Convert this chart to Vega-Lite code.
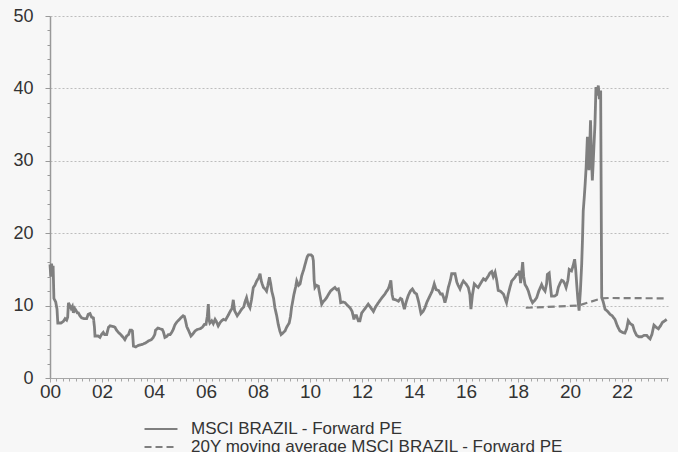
{
  "$schema": "https://vega.github.io/schema/vega-lite/v6.json",
  "width": 618,
  "height": 362,
  "autosize": {"type": "none"},
  "padding": {"left": 50, "top": 16, "right": 10, "bottom": 74},
  "background": "#f7f7f7",
  "config": {
    "font": "Liberation Sans",
    "view": {"stroke": null},
    "axis": {"titleFontSize": 0}
  },
  "datasets": {
    "main": [
      {"t":2000.00,"v":15.7},{"t":2000.03,"v":14.0},{"t":2000.06,"v":15.8},{"t":2000.09,"v":14.5},{"t":2000.12,"v":15.5},{"t":2000.15,"v":11.0},{"t":2000.22,"v":10.5},{"t":2000.27,"v":9.5},{"t":2000.30,"v":7.6},{"t":2000.42,"v":7.6},{"t":2000.51,"v":7.8},{"t":2000.58,"v":8.2},{"t":2000.64,"v":8.0},{"t":2000.68,"v":8.4},{"t":2000.71,"v":10.4},{"t":2000.76,"v":10.0},{"t":2000.81,"v":9.6},{"t":2000.86,"v":9.9},{"t":2000.90,"v":9.0},{"t":2000.95,"v":9.6},{"t":2000.99,"v":9.4},
      {"t":2001.05,"v":9.0},{"t":2001.09,"v":9.0},{"t":2001.15,"v":8.6},{"t":2001.22,"v":8.3},{"t":2001.30,"v":8.2},{"t":2001.41,"v":8.2},{"t":2001.47,"v":8.8},{"t":2001.54,"v":8.9},{"t":2001.60,"v":8.4},{"t":2001.67,"v":8.3},{"t":2001.71,"v":7.0},{"t":2001.73,"v":5.8},{"t":2001.85,"v":5.8},{"t":2001.92,"v":5.6},{"t":2001.98,"v":6.0},
      {"t":2002.05,"v":6.3},{"t":2002.10,"v":6.0},{"t":2002.18,"v":6.0},{"t":2002.25,"v":7.0},{"t":2002.31,"v":7.2},{"t":2002.45,"v":7.1},{"t":2002.50,"v":7.0},{"t":2002.56,"v":6.6},{"t":2002.63,"v":6.3},{"t":2002.72,"v":6.0},{"t":2002.82,"v":5.6},{"t":2002.88,"v":5.3},{"t":2002.95,"v":5.8},
      {"t":2003.02,"v":6.0},{"t":2003.08,"v":6.6},{"t":2003.14,"v":6.6},{"t":2003.17,"v":6.5},{"t":2003.21,"v":4.4},{"t":2003.30,"v":4.3},{"t":2003.40,"v":4.5},{"t":2003.50,"v":4.6},{"t":2003.59,"v":4.7},{"t":2003.70,"v":4.9},{"t":2003.78,"v":5.1},{"t":2003.90,"v":5.3},{"t":2003.97,"v":5.6},
      {"t":2004.03,"v":6.0},{"t":2004.06,"v":6.6},{"t":2004.15,"v":6.9},{"t":2004.23,"v":6.8},{"t":2004.32,"v":6.7},{"t":2004.36,"v":6.4},{"t":2004.42,"v":5.6},{"t":2004.48,"v":5.7},{"t":2004.55,"v":6.0},{"t":2004.62,"v":6.0},{"t":2004.68,"v":6.3},{"t":2004.74,"v":6.7},{"t":2004.80,"v":7.3},{"t":2004.87,"v":7.7},{"t":2004.95,"v":8.0},
      {"t":2005.06,"v":8.4},{"t":2005.12,"v":8.6},{"t":2005.17,"v":8.5},{"t":2005.22,"v":7.8},{"t":2005.26,"v":7.1},{"t":2005.35,"v":6.4},{"t":2005.42,"v":5.8},{"t":2005.50,"v":6.1},{"t":2005.58,"v":6.5},{"t":2005.66,"v":6.7},{"t":2005.77,"v":6.8},{"t":2005.86,"v":7.0},{"t":2005.94,"v":7.4},
      {"t":2006.00,"v":7.4},{"t":2006.05,"v":8.5},{"t":2006.09,"v":10.2},{"t":2006.12,"v":8.0},{"t":2006.15,"v":7.6},{"t":2006.22,"v":7.9},{"t":2006.28,"v":7.5},{"t":2006.35,"v":8.1},{"t":2006.40,"v":7.8},{"t":2006.47,"v":7.2},{"t":2006.55,"v":7.7},{"t":2006.60,"v":7.9},{"t":2006.67,"v":8.1},{"t":2006.75,"v":8.0},{"t":2006.86,"v":8.7},{"t":2006.93,"v":9.2},
      {"t":2007.00,"v":9.6},{"t":2007.05,"v":10.8},{"t":2007.10,"v":9.3},{"t":2007.20,"v":8.6},{"t":2007.28,"v":9.0},{"t":2007.37,"v":9.5},{"t":2007.45,"v":9.8},{"t":2007.50,"v":10.5},{"t":2007.56,"v":11.1},{"t":2007.62,"v":10.2},{"t":2007.69,"v":9.7},{"t":2007.75,"v":10.8},{"t":2007.82,"v":12.5},{"t":2007.88,"v":12.8},{"t":2007.95,"v":13.4},
      {"t":2008.02,"v":13.8},{"t":2008.08,"v":14.4},{"t":2008.12,"v":13.5},{"t":2008.16,"v":13.0},{"t":2008.21,"v":12.5},{"t":2008.27,"v":12.3},{"t":2008.33,"v":12.0},{"t":2008.38,"v":12.8},{"t":2008.44,"v":13.9},{"t":2008.49,"v":13.0},{"t":2008.53,"v":12.0},{"t":2008.60,"v":11.0},{"t":2008.65,"v":9.7},{"t":2008.72,"v":8.6},{"t":2008.78,"v":7.4},{"t":2008.84,"v":6.5},{"t":2008.89,"v":6.0},{"t":2008.95,"v":6.2},
      {"t":2009.04,"v":6.5},{"t":2009.10,"v":7.0},{"t":2009.20,"v":7.6},{"t":2009.25,"v":8.5},{"t":2009.29,"v":9.7},{"t":2009.38,"v":11.5},{"t":2009.45,"v":12.6},{"t":2009.49,"v":13.4},{"t":2009.56,"v":12.8},{"t":2009.62,"v":13.0},{"t":2009.68,"v":14.1},{"t":2009.76,"v":15.0},{"t":2009.85,"v":16.2},{"t":2009.90,"v":16.8},{"t":2009.94,"v":17.0},
      {"t":2010.04,"v":17.0},{"t":2010.10,"v":16.8},{"t":2010.13,"v":16.2},{"t":2010.16,"v":13.5},{"t":2010.19,"v":12.5},{"t":2010.25,"v":12.8},{"t":2010.32,"v":12.7},{"t":2010.38,"v":11.5},{"t":2010.45,"v":10.2},{"t":2010.52,"v":10.6},{"t":2010.58,"v":10.8},{"t":2010.64,"v":11.1},{"t":2010.72,"v":11.6},{"t":2010.79,"v":12.0},{"t":2010.88,"v":12.3},{"t":2010.96,"v":12.5},
      {"t":2011.03,"v":12.2},{"t":2011.09,"v":12.3},{"t":2011.14,"v":11.5},{"t":2011.18,"v":10.4},{"t":2011.27,"v":10.5},{"t":2011.35,"v":10.4},{"t":2011.45,"v":10.0},{"t":2011.54,"v":9.7},{"t":2011.62,"v":9.2},{"t":2011.69,"v":8.1},{"t":2011.73,"v":8.6},{"t":2011.79,"v":8.6},{"t":2011.86,"v":7.9},{"t":2011.92,"v":7.9},{"t":2011.99,"v":9.0},
      {"t":2012.10,"v":9.5},{"t":2012.24,"v":10.2},{"t":2012.32,"v":9.8},{"t":2012.44,"v":9.2},{"t":2012.52,"v":9.8},{"t":2012.63,"v":10.4},{"t":2012.75,"v":11.0},{"t":2012.88,"v":11.6},{"t":2012.95,"v":12.0},
      {"t":2013.01,"v":12.3},{"t":2013.06,"v":12.8},{"t":2013.11,"v":13.5},{"t":2013.16,"v":11.5},{"t":2013.20,"v":10.9},{"t":2013.30,"v":10.8},{"t":2013.40,"v":10.6},{"t":2013.48,"v":11.0},{"t":2013.53,"v":10.9},{"t":2013.63,"v":9.5},{"t":2013.70,"v":10.5},{"t":2013.78,"v":11.4},{"t":2013.86,"v":12.0},{"t":2013.94,"v":12.3},
      {"t":2014.02,"v":11.8},{"t":2014.10,"v":11.6},{"t":2014.18,"v":10.5},{"t":2014.27,"v":8.9},{"t":2014.35,"v":9.2},{"t":2014.42,"v":9.7},{"t":2014.50,"v":10.5},{"t":2014.62,"v":11.4},{"t":2014.70,"v":12.0},{"t":2014.78,"v":13.0},{"t":2014.85,"v":12.2},{"t":2014.94,"v":12.1},
      {"t":2015.02,"v":11.6},{"t":2015.09,"v":11.6},{"t":2015.15,"v":11.0},{"t":2015.19,"v":10.4},{"t":2015.25,"v":11.2},{"t":2015.32,"v":12.5},{"t":2015.40,"v":13.5},{"t":2015.45,"v":14.4},{"t":2015.58,"v":14.4},{"t":2015.65,"v":13.2},{"t":2015.70,"v":12.8},{"t":2015.77,"v":12.3},{"t":2015.84,"v":13.0},{"t":2015.90,"v":13.4},
      {"t":2016.00,"v":13.0},{"t":2016.09,"v":12.5},{"t":2016.15,"v":11.5},{"t":2016.19,"v":9.5},{"t":2016.25,"v":11.5},{"t":2016.32,"v":13.0},{"t":2016.40,"v":12.7},{"t":2016.47,"v":12.5},{"t":2016.55,"v":13.0},{"t":2016.67,"v":13.7},{"t":2016.75,"v":13.5},{"t":2016.86,"v":14.1},{"t":2016.92,"v":14.5},{"t":2016.99,"v":14.7},
      {"t":2017.05,"v":14.0},{"t":2017.12,"v":14.6},{"t":2017.18,"v":13.5},{"t":2017.24,"v":12.1},{"t":2017.32,"v":12.0},{"t":2017.44,"v":11.6},{"t":2017.50,"v":11.0},{"t":2017.56,"v":10.4},{"t":2017.62,"v":11.5},{"t":2017.69,"v":12.5},{"t":2017.76,"v":13.4},{"t":2017.88,"v":13.9},{"t":2017.95,"v":14.3},
      {"t":2018.01,"v":14.3},{"t":2018.06,"v":14.8},{"t":2018.10,"v":13.1},{"t":2018.14,"v":14.5},{"t":2018.18,"v":16.0},{"t":2018.22,"v":14.0},{"t":2018.27,"v":12.9},{"t":2018.34,"v":12.5},{"t":2018.40,"v":12.0},{"t":2018.48,"v":11.0},{"t":2018.56,"v":10.4},{"t":2018.64,"v":10.7},{"t":2018.72,"v":11.1},{"t":2018.80,"v":12.0},{"t":2018.91,"v":12.9},{"t":2018.98,"v":12.3},
      {"t":2019.04,"v":12.0},{"t":2019.10,"v":13.0},{"t":2019.13,"v":14.3},{"t":2019.20,"v":14.5},{"t":2019.24,"v":13.0},{"t":2019.29,"v":11.3},{"t":2019.40,"v":11.3},{"t":2019.49,"v":11.5},{"t":2019.55,"v":12.5},{"t":2019.62,"v":13.1},{"t":2019.68,"v":13.5},{"t":2019.74,"v":13.4},{"t":2019.80,"v":13.0},{"t":2019.85,"v":12.5},{"t":2019.92,"v":13.5},{"t":2019.97,"v":15.0},
      {"t":2020.06,"v":14.8},{"t":2020.12,"v":15.5},{"t":2020.18,"v":16.4},{"t":2020.22,"v":15.0},{"t":2020.26,"v":12.9},{"t":2020.30,"v":11.0},{"t":2020.35,"v":9.3},{"t":2020.40,"v":12.0},{"t":2020.45,"v":15.7},{"t":2020.48,"v":19.0},{"t":2020.51,"v":23.1},{"t":2020.55,"v":25.0},{"t":2020.58,"v":26.6},{"t":2020.62,"v":29.0},{"t":2020.67,"v":33.3},{"t":2020.70,"v":31.0},{"t":2020.73,"v":28.7},{"t":2020.76,"v":32.0},{"t":2020.79,"v":35.6},{"t":2020.83,"v":30.0},{"t":2020.86,"v":27.3},{"t":2020.89,"v":29.5},{"t":2020.92,"v":31.9},{"t":2020.96,"v":35.0},
      {"t":2021.00,"v":40.2},{"t":2021.04,"v":39.0},{"t":2021.09,"v":40.4},{"t":2021.13,"v":38.5},{"t":2021.18,"v":39.7},{"t":2021.20,"v":25.0},{"t":2021.22,"v":11.1},{"t":2021.28,"v":10.5},{"t":2021.35,"v":9.5},{"t":2021.45,"v":9.2},{"t":2021.54,"v":8.8},{"t":2021.62,"v":8.6},{"t":2021.73,"v":8.1},{"t":2021.82,"v":7.2},{"t":2021.92,"v":6.5},
      {"t":2022.02,"v":6.3},{"t":2022.11,"v":6.2},{"t":2022.18,"v":6.8},{"t":2022.24,"v":7.9},{"t":2022.32,"v":7.5},{"t":2022.41,"v":7.3},{"t":2022.48,"v":6.5},{"t":2022.56,"v":5.9},{"t":2022.65,"v":5.7},{"t":2022.76,"v":5.7},{"t":2022.85,"v":5.9},{"t":2022.95,"v":5.9},
      {"t":2023.02,"v":5.6},{"t":2023.08,"v":5.4},{"t":2023.15,"v":6.0},{"t":2023.23,"v":7.3},{"t":2023.32,"v":7.0},{"t":2023.40,"v":6.8},{"t":2023.48,"v":7.2},{"t":2023.56,"v":7.7},{"t":2023.65,"v":7.9},{"t":2023.72,"v":8.1}
    ],
    "ma": [
      {"t":2018.30,"v":9.7},{"t":2019.00,"v":9.8},{"t":2019.60,"v":9.9},{"t":2020.32,"v":10.0},{"t":2021.22,"v":11.0},{"t":2021.50,"v":11.05},{"t":2023.73,"v":11.0}
    ]
  },
  "layer": [
    {
      "data": {"name": "main"},
      "mark": {"type": "line", "strokeWidth": 2.8, "interpolate": "linear"},
      "encoding": {
        "x": {
          "field": "t", "type": "quantitative",
          "scale": {"domain": [2000, 2023.77], "nice": false, "zero": false},
          "axis": {
            "orient": "bottom", "title": null,
            "values": [2000,2002,2004,2006,2008,2010,2012,2014,2016,2018,2020,2022],
            "labelExpr": "slice(toString(datum.value), 2)",
            "grid": false, "tickSize": 4, "tickColor": "#a6a6a6", "domainColor": "#a6a6a6", "domainWidth": 1.2,
            "labelFontSize": 19, "labelColor": "#333333", "labelPadding": 0, "labelFlush": false, "labelOverlap": false
          }
        },
        "y": {
          "field": "v", "type": "quantitative",
          "scale": {"domain": [0, 50], "nice": false},
          "axis": {
            "orient": "left", "title": null,
            "values": [0,10,20,30,40,50],
            "grid": true, "gridDash": [2,2], "gridColor": "#bdbdbd", "gridWidth": 1,
            "tickSize": 5, "tickColor": "#999999", "domainColor": "#999999", "domainWidth": 1.5,
            "labelFontSize": 18, "labelColor": "#333333", "labelPadding": 12
          }
        },
        "color": {
          "datum": "MSCI BRAZIL - Forward PE",
          "scale": {"domain": ["MSCI BRAZIL - Forward PE", "20Y moving average MSCI BRAZIL - Forward PE"], "range": ["#7f7f7f", "#7f7f7f"]},
          "legend": {
            "title": null, "orient": "none", "legendX": 101, "legendY": 403,
            "symbolType": "M-1.94,0H1.94", "symbolSize": 289, "symbolStrokeWidth": 2.2,
            "labelFontSize": 17, "labelColor": "#333333", "labelOffset": 20, "rowPadding": -1, "labelLimit": 600
          }
        },
        "strokeDash": {
          "datum": "MSCI BRAZIL - Forward PE",
          "scale": {"domain": ["MSCI BRAZIL - Forward PE", "20Y moving average MSCI BRAZIL - Forward PE"], "range": [[1,0],[7,4]]},
          "legend": {
            "title": null, "orient": "none", "legendX": 101, "legendY": 403,
            "symbolType": "M-1.94,0H1.94", "symbolSize": 289, "symbolStrokeWidth": 2.2,
            "labelFontSize": 17, "labelColor": "#333333", "labelOffset": 20, "rowPadding": -1, "labelLimit": 600
          }
        }
      }
    },
    {
      "data": {"name": "ma"},
      "mark": {"type": "line", "strokeWidth": 2.2},
      "encoding": {
        "x": {
          "field": "t", "type": "quantitative",
          "axis": {
            "orient": "bottom", "title": null, "labels": false, "domain": false, "grid": false,
            "tickSize": 3, "tickColor": "#a6a6a6",
            "values": [2000.25,2000.5,2000.75,2001,2001.25,2001.5,2001.75,2002.25,2002.5,2002.75,2003,2003.25,2003.5,2003.75,2004.25,2004.5,2004.75,2005,2005.25,2005.5,2005.75,2006.25,2006.5,2006.75,2007,2007.25,2007.5,2007.75,2008.25,2008.5,2008.75,2009,2009.25,2009.5,2009.75,2010.25,2010.5,2010.75,2011,2011.25,2011.5,2011.75,2012.25,2012.5,2012.75,2013,2013.25,2013.5,2013.75,2014.25,2014.5,2014.75,2015,2015.25,2015.5,2015.75,2016.25,2016.5,2016.75,2017,2017.25,2017.5,2017.75,2018.25,2018.5,2018.75,2019,2019.25,2019.5,2019.75,2020.25,2020.5,2020.75,2021,2021.25,2021.5,2021.75,2022.25,2022.5,2022.75,2023,2023.25,2023.5,2023.75]
          }
        },
        "y": {
          "field": "v", "type": "quantitative",
          "axis": {
            "orient": "left", "title": null, "labels": false, "domain": false, "grid": false,
            "tickSize": 3, "tickColor": "#999999",
            "values": [2,4,6,8,12,14,16,18,22,24,26,28,32,34,36,38,42,44,46,48]
          }
        },
        "color": {"datum": "20Y moving average MSCI BRAZIL - Forward PE"},
        "strokeDash": {"datum": "20Y moving average MSCI BRAZIL - Forward PE"}
      }
    }
  ],
  "resolve": {"axis": {"x": "independent", "y": "independent"}}
}
